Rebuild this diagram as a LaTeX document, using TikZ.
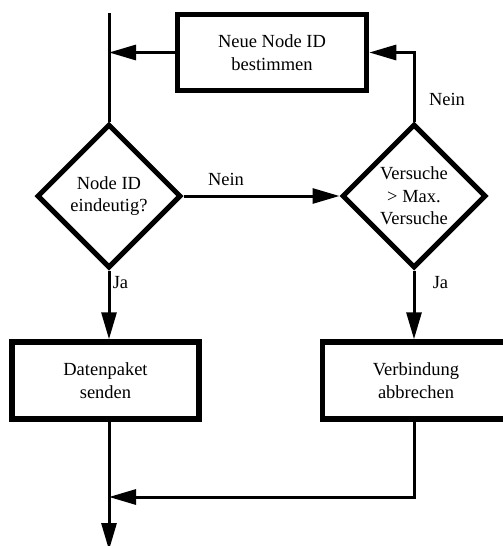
\documentclass[tikz,border=0pt]{standalone}
\usepackage{fontspec}
\setmainfont{Liberation Serif}
\newfontfamily\chartfont{Liberation Serif}
\usetikzlibrary{arrows.meta,shapes.geometric}

\begin{document}
\begin{tikzpicture}[x=1pt,y=-1pt,
  every node/.style={font=\chartfont\fontsize{18.5}{22.5}\selectfont},
  process/.style={draw,line width=5.5pt,rectangle,align=center,inner sep=0pt,
                  minimum width=187pt,minimum height=77pt},
  decision/.style={draw,line width=5pt,diamond,align=center,inner sep=0pt,
                   minimum width=144pt,minimum height=144pt},
  conn/.style={line width=3pt},
  flow/.style={conn,-{Triangle[length=27pt,width=15pt]}},
  tag/.style={inner sep=0pt,anchor=base}]

  \useasboundingbox (0,0) rectangle (503,546);

  % process boxes
  \node[process,minimum width=189pt,minimum height=76pt] (newid) at (272,52.5)
    {Neue Node ID\\bestimmen};
  \node[process] (send)  at (105.5,380.5) {Datenpaket\\senden};
  \node[process] (abort) at (416,380.5)   {Verbindung\\abbrechen};

  % decisions
  \node[decision] (unique) at (109,196) {Node ID\\eindeutig?};
  \node[decision] (tries)  at (414,196) {Versuche\\> Max.\\Versuche};

  % free ends of the main line
  \coordinate (start) at (109,13);
  \coordinate (finish) at (109,550);
  \coordinate (merge) at (109,497);

  % connectors
  \draw[conn] (start) -- (unique.north);
  \draw[flow] (newid.west) -- (newid.west -| unique.north);
  \draw[flow] (unique.east) -- (tries.west);
  \draw[flow] (tries.north) |- (newid.east);
  \draw[flow] (unique.south) -- (unique.south |- send.north);
  \draw[flow] (tries.south) -- (tries.south |- abort.north);
  \draw[flow] (send.south -| unique.south) -- (finish);
  \draw[flow] (abort.south -| tries.south) |- (merge);

  % branch labels
  \node[tag] (noA)  at (226,185) {Nein};
  \node[tag] (noB)  at (447,105) {Nein};
  \node[tag] (yesA) at (120.5,288) {Ja};
  \node[tag] (yesB) at (440.5,288) {Ja};
\end{tikzpicture}
\end{document}
